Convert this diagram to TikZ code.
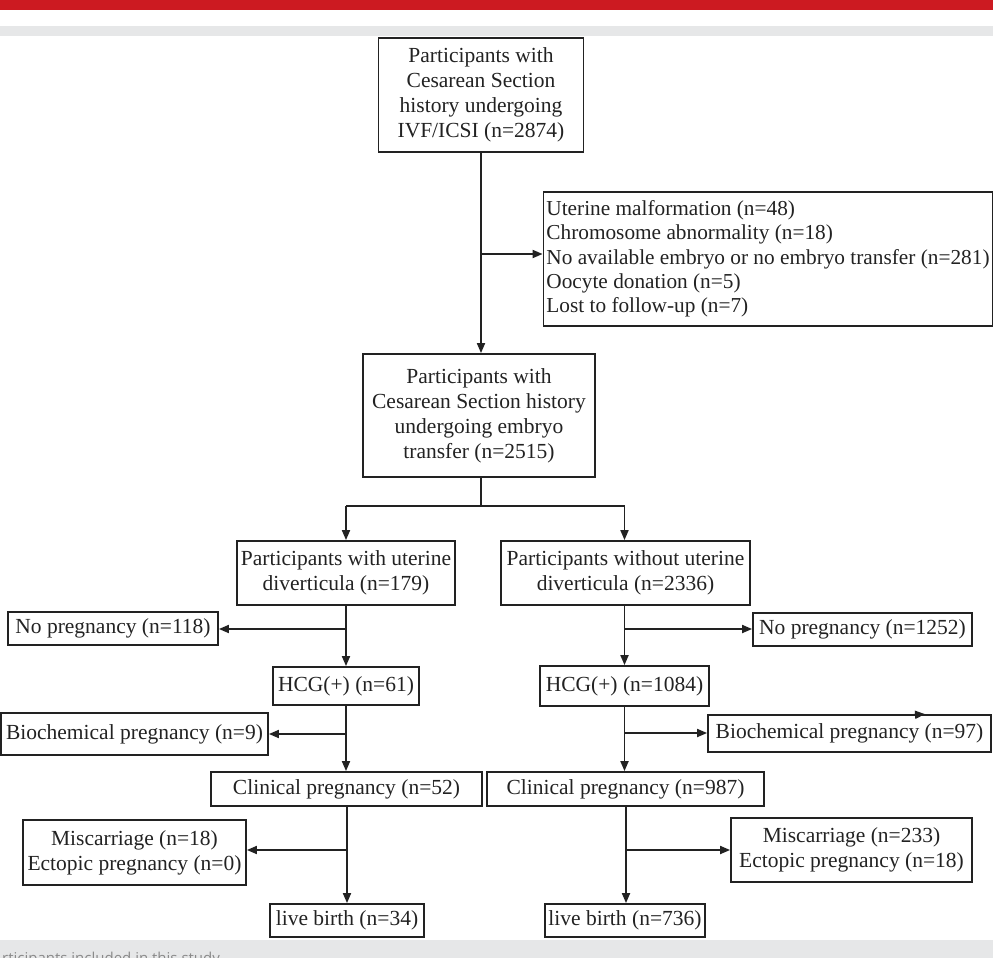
\documentclass[tikz,border=0pt]{standalone}
\usepackage{fontspec}
\setmainfont{Liberation Serif}
\newfontfamily\capfont{Open Sans}
\usetikzlibrary{arrows.meta}
\definecolor{redbar}{HTML}{CC1A21}
\definecolor{greyband}{HTML}{E6E7E8}
\definecolor{ink}{HTML}{222222}
\definecolor{captext}{HTML}{8A8A8A}
\begin{document}
\begin{tikzpicture}[x=1pt,y=-1pt,
  box/.style={draw=ink,line width=1.8pt,inner sep=0pt,align=center,
    font=\fontsize{21.5}{25}\selectfont,text=ink},
  arr/.style={draw=ink,line width=1.8pt,-{Triangle[length=10pt,width=8pt]}},
  ln/.style={draw=ink,line width=1.8pt}]
\useasboundingbox (0,0) rectangle (993,958);
% page decorations
\fill[redbar] (0,0) rectangle (993,10);
\fill[greyband] (0,26) rectangle (993,36);
\fill[greyband] (0,940) rectangle (993,958);
\node[anchor=base west,inner sep=0pt,font=\capfont\fontsize{15}{18}\selectfont,text=captext] (cap) at (2,963) {rticipants included in this study};

% boxes
\node[box,minimum width=205pt,minimum height=114pt] (top) at (481,95)
  {Participants with\\Cesarean Section\\history undergoing\\IVF/ICSI (n=2874)};
\node[box,minimum width=449pt,minimum height=134pt,align=left,
  font=\fontsize{21.3}{24.3}\selectfont] (excl) at (768,259)
  {Uterine malformation (n=48)\\Chromosome abnormality (n=18)\\No available embryo or no embryo transfer (n=281)\\Oocyte donation (n=5)\\Lost to follow-up (n=7)};
\node[box,minimum width=232pt,minimum height=123pt] (mid) at (479,415.5)
  {Participants with\\Cesarean Section history\\undergoing embryo\\transfer (n=2515)};

\node[box,minimum width=218pt,minimum height=64pt] (L1) at (346,573)
  {Participants with uterine\\diverticula (n=179)};
\node[box,minimum width=249pt,minimum height=64pt] (R1) at (625.5,573)
  {Participants without uterine\\diverticula (n=2336)};

\node[box,minimum width=210pt,minimum height=33pt] (NPL) at (113,628.5) {No pregnancy (n=118)};
\node[box,minimum width=219pt,minimum height=33pt] (NPR) at (862.5,629.5) {No pregnancy (n=1252)};

\node[box,minimum width=146pt,minimum height=38pt] (HL) at (346,686) {HCG(+) (n=61)};
\node[box,minimum width=169pt,minimum height=40pt] (HR) at (624.5,686) {HCG(+) (n=1084)};

\node[box,minimum width=267pt,minimum height=42pt] (BL) at (134.5,734) {Biochemical pregnancy (n=9)};
\node[box,minimum width=283pt,minimum height=37pt] (BR) at (849.5,733.5) {Biochemical pregnancy (n=97)};

\node[box,minimum width=271pt,minimum height=34pt] (CL) at (346.5,789) {Clinical pregnancy (n=52)};
\node[box,minimum width=277pt,minimum height=34pt] (CR) at (625.5,789) {Clinical pregnancy (n=987)};

\node[box,minimum width=223pt,minimum height=65pt] (ML) at (134.5,852.5) {Miscarriage (n=18)\\Ectopic pregnancy (n=0)};
\node[box,minimum width=241pt,minimum height=64pt] (MR) at (851.5,850) {Miscarriage (n=233)\\Ectopic pregnancy (n=18)};

\node[box,minimum width=154pt,minimum height=33pt] (LBL) at (347,920.5) {live birth (n=34)};
\node[box,minimum width=160pt,minimum height=33pt] (LBR) at (625,920.5) {live birth (n=736)};

% connectors: top part
\draw[arr] (top.south) -- (top.south |- mid.north);
\coordinate (b1) at (481,254);
\draw[arr] (b1) -- (b1 -| excl.west);

\coordinate (s) at (481,506);
\coordinate (sl) at (346,506);
\coordinate (sr) at (624.5,506);
\draw[ln] (s |- mid.south) -- (s);
\draw[ln] (sl) -- (sr);
\draw[arr] (sl) -- (sl |- L1.north);
\draw[arr] (sr) -- (sr |- R1.north);

% left column
\draw[arr] (sl |- L1.south) -- (sl |- HL.north);
\coordinate (bl1) at (346,629);
\draw[arr] (bl1) -- (bl1 -| NPL.east);
\draw[arr] (sl |- HL.south) -- (sl |- CL.north);
\coordinate (bl2) at (346,734);
\draw[arr] (bl2) -- (bl2 -| BL.east);
\coordinate (cl) at (347,806);
\draw[arr] (cl |- CL.south) -- (cl |- LBL.north);
\coordinate (bl3) at (347,850);
\draw[arr] (bl3) -- (bl3 -| ML.east);

% right column
\draw[arr] (sr |- R1.south) -- (sr |- HR.north);
\coordinate (br1) at (624.5,629);
\draw[arr] (br1) -- (br1 -| NPR.west);
\draw[arr] (sr |- HR.south) -- (sr |- CR.north);
\coordinate (br2) at (624.5,733);
\draw[arr] (br2) -- (br2 -| BR.west);
\coordinate (cr) at (626,806);
\draw[arr] (cr |- CR.south) -- (cr |- LBR.north);
\coordinate (br3) at (626,850);
\draw[arr] (br3) -- (br3 -| MR.west);

% stray arrow tip on the top edge of the right biochemical box
\coordinate (st) at (912,715);
\draw[arr] (st) -- (BR.north -| 925,0);
\end{tikzpicture}
\end{document}
